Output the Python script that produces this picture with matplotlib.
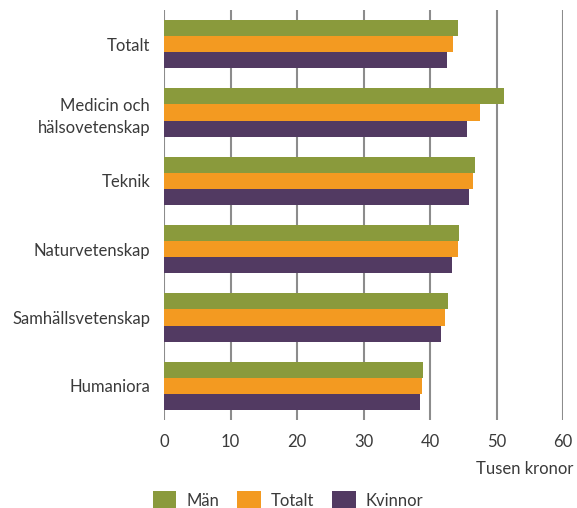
import matplotlib.pyplot as plt
import numpy as np

plt.rcParams['font.family'] = ['Lato', 'DejaVu Sans']

categories = ['Totalt', 'Medicin och\nhälsovetenskap', 'Teknik',
              'Naturvetenskap', 'Samhällsvetenskap', 'Humaniora']
man = [44.2, 51.1, 46.8, 44.4, 42.7, 38.9]
totalt = [43.5, 47.5, 46.5, 44.2, 42.3, 38.8]
kvinnor = [42.6, 45.6, 45.9, 43.3, 41.7, 38.5]
series_names = ['Män', 'Totalt', 'Kvinnor']
colors = ['#8a9a3c', '#f39a21', '#523a62']
text_col = '#3a3a3a'

fig = plt.figure(figsize=(5.77, 5.08), dpi=100)
ax = fig.add_axes([164/577, 88/508, 399/577, 410/508])

y = np.arange(len(categories))
h = 0.235
for i, (vals, name, c) in enumerate(zip([man, totalt, kvinnor], series_names, colors)):
    ax.barh(y + (i - 1) * h, vals, height=h, color=c, label=name, zorder=3)

ax.set_xlim(0, 60)
ax.set_ylim(len(categories) - 0.5, -0.5)
ax.set_xticks(range(0, 61, 10))
for xv in range(0, 61, 10):
    ax.axvline(xv, color='#8c8c8c', lw=1.5, zorder=1)
for s in ax.spines.values():
    s.set_visible(False)
ax.tick_params(length=0, labelsize=12, colors=text_col)
ax.tick_params(axis='x', pad=10)
ax.tick_params(axis='y', pad=10)
ax.set_yticks(y)
ax.set_yticklabels(categories, fontsize=12, color=text_col, linespacing=1.5)

fig.text(573/577, 1 - 469/508, 'Tusen kronor', ha='right', va='center',
         fontsize=12, color=text_col)

leg = fig.legend(loc='center', bbox_to_anchor=(288/577, 1 - 500/508), ncol=3,
                 frameon=False, handlelength=1.4, handleheight=1.3,
                 columnspacing=1.1, handletextpad=0.6, fontsize=12)
for t in leg.get_texts():
    t.set_color(text_col)

fig.savefig('out.png', dpi=100)
